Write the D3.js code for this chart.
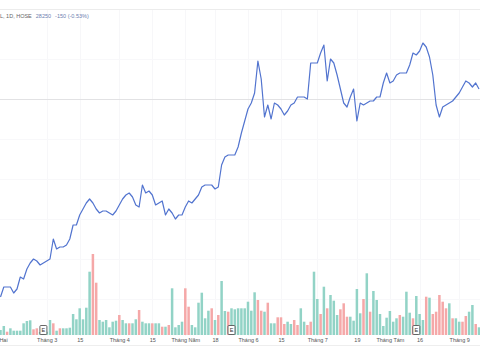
<!DOCTYPE html>
<html><head><meta charset="utf-8">
<script src="https://cdn.jsdelivr.net/npm/d3@7"></script>
<style>html,body{margin:0;padding:0;background:#fff;overflow:hidden}svg{display:block}</style>
</head><body>
<svg id="c" width="480" height="360"></svg>
<script>
// ---- data ----
const prices = [23050,23300,23300,23300,23150,23250,23550,23500,23750,23900,
24000,23950,23850,23900,23950,24000,24500,24250,24300,24300,
24350,24500,24850,24850,25100,25250,25400,25500,25400,25250,
25150,25200,25200,25150,25100,25200,25350,25500,25600,25650,
25550,25350,25300,25850,25650,25700,25600,25350,25400,25450,
25100,25250,25150,25000,25100,25100,25300,25450,25400,25500,
25600,25800,25850,25850,25850,25750,25800,26350,26550,26600,
26600,26600,26800,27150,27450,27750,27900,28150,28950,28500,
27550,27850,27500,27900,27850,27750,27600,27700,27850,27900,
28050,28050,28050,28000,28900,28900,28900,29150,29350,28450,
29000,28900,28600,28250,27900,27800,28050,28250,27450,27900,
27850,27900,27950,27950,28050,28050,28400,28650,28400,28450,
28600,28650,28650,28650,28850,29150,29100,29200,29400,29300,
29050,28600,27850,27550,27800,27850,27900,27950,28050,28150,
28300,28450,28400,28300,28400,28250];
const volumes = [0.5,0.9,0.33,0.67,0.43,0.43,0.43,1.17,1.4,1.47,
0.57,0.67,0.3,0.5,0.33,1.5,1.17,0.43,0.67,0.67,
0.67,0.73,2.1,1.57,2.67,1.57,2.73,6.33,8.1,5.23,
1.5,1.33,1.5,0.77,1.33,1.43,2.0,1.5,1.17,1.17,
1.17,1.57,2.5,1.33,1.17,1.17,1.17,1.17,1.17,0.83,
0.83,1.0,4.67,0.77,1.0,1.33,4.67,2.83,1.0,0.77,
3.23,4.23,1.67,2.43,2.67,1.5,2.0,5.4,2.4,2.33,
2.67,2.57,2.67,2.67,2.67,3.33,2.43,4.27,3.5,2.43,
2.33,3.23,1.17,1.17,1.77,1.77,1.1,1.33,1.1,1.5,
1.0,2.67,1.33,1.0,1.33,6.33,3.6,2.1,4.83,2.67,
4.0,3.43,2.0,2.57,3.17,1.83,1.83,1.43,4.6,2.17,
3.6,6.17,2.33,4.4,3.5,2.1,0.9,1.73,2.4,1.33,
1.67,2.0,1.83,4.33,2.23,1.67,3.9,2.1,1.5,3.83,
3.73,2.1,2.33,4.0,3.33,2.67,3.17,1.67,1.67,1.33,
1.33,1.9,2.33,3.0,1.1,0.77,1.67];
const volDir = "uupuuuuuuupputuupupuuuuuuuuuppuuuuuupuupuupuuupuupupuuuuppuuuuuupupuupuuuuuuuuppupuuppputppuuppuupupuuupppuuuupupuuuuuuuupuuupuuupupppppuputpputpup".split("");
const tickIdx = [-1,14,24,36,46,56,65,75,85,96,108,118,127,139];
const tickLabels = ["Thứ Hai","Tháng 3","15","Tháng 4","15","Tháng Năm","18","Tháng 6","15","Tháng 7","19","Tháng Tám","16","Tháng 9"];
const eventIdx = [13,70,126];
const gridPrices = [23000,24000,25000,26000,27000,28000,29000];
const header = ["L, 1D, HOSE", "28250", "-150 (-0.53%)"];

// ---- drawing ----
const svg = d3.select("#c");
const W = 480, H = 360;
const x = d3.scaleLinear().domain([0, 145]).range([0.5, 479]);
const yP = d3.scaleLinear().domain([22000, 30000]).range([339, 19]);
const yV = d3.scaleLinear().domain([0, 10]).range([335, 235]);
const bw = 2.5;

// top separator
svg.append("line").attr("x1",0).attr("x2",W).attr("y1",9.5).attr("y2",9.5).attr("stroke","#ececec");

// gridlines
svg.append("g").selectAll("line").data(tickIdx).join("line")
  .attr("x1",d=>Math.round(x(d))+0.5).attr("x2",d=>Math.round(x(d))+0.5)
  .attr("y1",10).attr("y2",336).attr("stroke","#f7f7f9");
svg.append("g").selectAll("line").data(gridPrices).join("line")
  .attr("x1",0).attr("x2",W)
  .attr("y1",d=>Math.round(yP(d))+0.5).attr("y2",d=>Math.round(yP(d))+0.5)
  .attr("stroke",d=>d===28000?"#e2e2e4":"#f8f8fa");

// volume bars
const vols = volumes.map((v,i)=>({i,v,d:volDir[i]}));
svg.append("g").selectAll("rect").data(vols).join("rect")
  .attr("x",d=>x(d.i)-bw/2).attr("width",bw)
  .attr("y",d=>yV(d.v)).attr("height",d=>yV(0)-yV(d.v))
  .attr("fill",d=>d.d==="p"?"#f5a8a8":"#92d3c6");

// price line
const line = d3.line().x((d,i)=>x(i)).y(d=>yP(d));
svg.append("path").datum(prices).attr("d",line)
  .attr("fill","none").attr("stroke","#5274cf").attr("stroke-width",1.2)
  .attr("stroke-linejoin","round");

// event markers
const ev = svg.append("g").selectAll("g").data(eventIdx).join("g")
  .attr("transform",d=>`translate(${x(d)},330)`);
ev.append("rect").attr("x",-3.5).attr("y",-4.5).attr("width",7).attr("height",9)
  .attr("fill","#fff").attr("stroke","#555").attr("stroke-width",0.9).attr("rx",1);
ev.append("text").attr("text-anchor","middle").attr("y",2.2)
  .attr("font-family","Liberation Sans, Arial, sans-serif").attr("font-size",5.5)
  .attr("fill","#333").text("E");

// x axis
const axis = d3.axisBottom(x).tickValues(tickIdx)
  .tickFormat((d,i)=>tickLabels[i]).tickSize(0).tickPadding(3);
const ax = svg.append("g").attr("transform","translate(0,335)").call(axis);
ax.select(".domain").remove();
ax.selectAll("text").attr("font-family","Liberation Sans, Arial, sans-serif")
  .attr("font-size",5.5).attr("fill","#555");

// bottom separator
svg.append("line").attr("x1",0).attr("x2",W).attr("y1",345.5).attr("y2",345.5).attr("stroke","#eeeeee");

// header
const ht = svg.append("text").attr("x",0).attr("y",18)
  .attr("font-family","Liberation Sans, Arial, sans-serif").attr("font-size",5.5);
ht.append("tspan").attr("fill","#666").text(header[0]);
ht.append("tspan").attr("dx",4).attr("fill","#6d80b0").text(header[1]);
ht.append("tspan").attr("dx",4).attr("fill","#6d80b0").text(header[2]);
</script>
</body></html>
